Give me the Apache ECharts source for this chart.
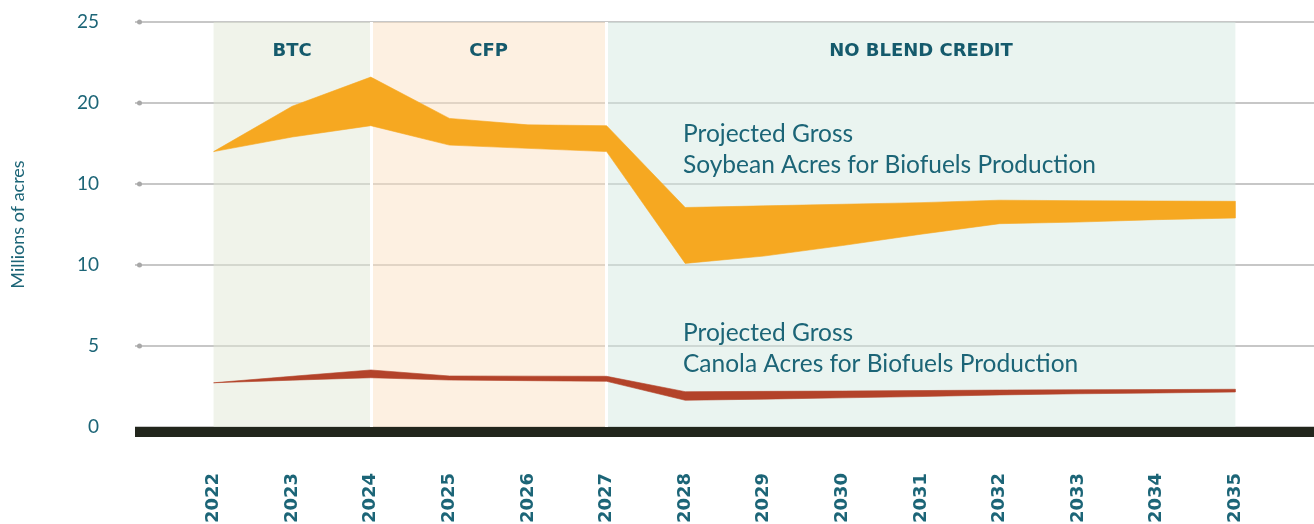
<!DOCTYPE html>
<html>
<head>
<meta charset="utf-8">
<script src="https://cdn.jsdelivr.net/npm/echarts@6/dist/echarts.min.js"></script>
<style>
  html, body { margin: 0; padding: 0; background: #fff; }
  #chart { width: 1314px; height: 524px; }
</style>
</head>
<body>
<div id="chart"></div>
<script>
// years on the x axis
const years = [2022, 2023, 2024, 2025, 2026, 2027, 2028, 2029, 2030, 2031, 2032, 2033, 2034, 2035];

// projected gross soybean acres (millions) - low / high edge of the range
const soyLow  = [17.0, 17.9, 18.6, 17.4, 17.2, 17.0, 10.1, 10.55, 11.2, 11.9, 12.55, 12.65, 12.8, 12.9];
const soyHigh = [17.0, 19.8, 21.6, 19.05, 18.65, 18.6, 13.55, 13.65, 13.75, 13.85, 14.0, 13.97, 13.95, 13.93];

// projected gross canola acres (millions) - low / high edge
const canolaLow  = [2.73, 2.89, 3.04, 2.9, 2.86, 2.82, 1.65, 1.72, 1.8, 1.88, 1.98, 2.05, 2.1, 2.16];
const canolaHigh = [2.73, 3.13, 3.52, 3.15, 3.14, 3.13, 2.18, 2.2, 2.22, 2.25, 2.28, 2.3, 2.31, 2.33];

// policy periods
const periodNames = ['BTC', 'CFP', 'NO BLEND CREDIT'];
const periodStart = [2022, 2024, 2027];
const periodEnd   = [2024, 2027, 2035];

// y tick values and the labels printed next to them
const yTicks      = [0, 5, 10, 15, 20, 25];
const yTickLabels = ['0', '5', '10', '10', '20', '25'];

const TEAL = '#1c6577';
const periodColors = ['rgba(225,231,213,0.5)', 'rgba(251,225,195,0.5)', 'rgba(213,233,225,0.5)'];

const chart = echarts.init(document.getElementById('chart'));

// filled polygon between a low and a high line
function rangeSeries(name, low, high, color) {
  return {
    type: 'custom',
    name: name,
    z: 10,
    silent: true,
    data: [[years[0], low[0]]],
    renderItem: function (params, api) {
      const pts = years.map((y, i) => api.coord([y, high[i]]));
      for (let i = years.length - 1; i >= 0; i--) {
        pts.push(api.coord([years[i], low[i]]));
      }
      return {
        type: 'polygon',
        shape: { points: pts },
        style: { fill: color, stroke: color, lineWidth: 0.6 }
      };
    }
  };
}

const option = {
  animation: false,
  grid: { left: 135, right: 0, top: 22, bottom: 97, outerBoundsMode: 'none', containLabel: false },
  xAxis: {
    type: 'value',
    min: 2021,
    max: 2036,
    interval: 1,
    offset: 5,
    axisLine: { show: true, onZero: false, lineStyle: { color: '#22261c', width: 10, cap: 'butt' } },
    axisTick: { show: false },
    splitLine: { show: false },
    axisLabel: {
      rotate: 90,
      margin: 41,
      color: TEAL,
      fontFamily: 'DejaVu Sans',
      fontWeight: 'bold',
      fontSize: 18,
      formatter: v => (years.indexOf(v) >= 0 ? String(v) : '')
    }
  },
  yAxis: {
    type: 'value',
    min: 0,
    max: 25,
    interval: 5,
    name: 'Millions of acres',
    nameLocation: 'middle',
    nameGap: 108,
    nameTextStyle: { color: TEAL, fontFamily: 'Lato', fontSize: 18 },
    axisLine: { show: false },
    axisTick: { show: false },
    splitLine: { lineStyle: { color: '#b5b5b5', width: 1.5 } },
    axisLabel: {
      margin: -7,
      formatter: function (v) {
        const lab = yTickLabels[yTicks.indexOf(v)];
        return '{v|' + lab + '}{s|}' + (v === 0 ? '{e|}' : '{d|}');
      },
      rich: {
        v: { color: TEAL, fontFamily: 'Lato', fontSize: 19, verticalAlign: 'middle' },
        s: { width: 38 },
        d: { width: 5, height: 5, borderRadius: 3, backgroundColor: '#a8a8a8', verticalAlign: 'middle' },
        e: { width: 5 }
      }
    }
  },
  graphic: [
    {
      type: 'text', left: 683, top: 118.5, z: 20,
      style: {
        text: 'Projected Gross\nSoybean Acres for Biofuels Production',
        fill: TEAL, font: '24.5px Lato', lineHeight: 31
      }
    },
    {
      type: 'text', left: 683, top: 317.5, z: 20,
      style: {
        text: 'Projected Gross\nCanola Acres for Biofuels Production',
        fill: TEAL, font: '24.5px Lato', lineHeight: 31
      }
    }
  ],
  series: [
    {
      name: 'periods',
      type: 'line',
      z: 1,
      data: [],
      markArea: {
        silent: true,
        label: {
          show: true,
          position: 'insideTop',
          distance: 20,
          color: '#155a6c',
          fontFamily: 'DejaVu Sans',
          fontWeight: 'bold',
          fontSize: 18
        },
        data: periodNames.map((n, i) => [
          { name: n, xAxis: periodStart[i], yAxis: 0, itemStyle: { color: periodColors[i] } },
          { xAxis: periodEnd[i], yAxis: 25 }
        ])
      },
      markLine: {
        silent: true,
        z: 2,
        symbol: 'none',
        label: { show: false },
        lineStyle: { color: '#ffffff', width: 3, type: 'solid' },
        data: [{ xAxis: periodStart[1] }, { xAxis: periodStart[2] }]
      }
    },
    rangeSeries('Soybean', soyLow, soyHigh, '#f6a821'),
    rangeSeries('Canola', canolaLow, canolaHigh, '#b3432a')
  ]
};

chart.setOption(option);
</script>
</body>
</html>
